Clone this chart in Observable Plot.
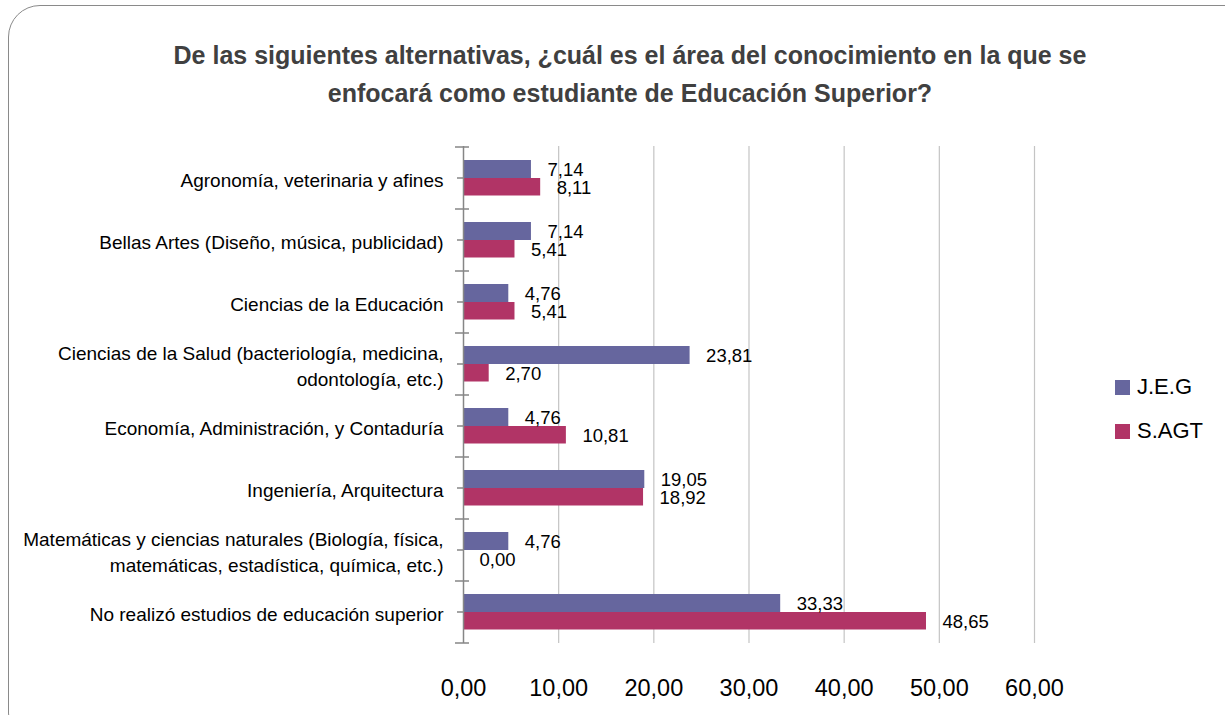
<!DOCTYPE html>
<html>
<head>
<meta charset="utf-8">
<script src="https://cdn.jsdelivr.net/npm/d3@7"></script>
<script src="https://cdn.jsdelivr.net/npm/@observablehq/plot@0.6"></script>
<style>
  html, body { margin: 0; padding: 0; background: #fff; }
  #wrap { position: relative; width: 1225px; height: 715px; overflow: hidden; font-family: "Liberation Sans", Arial, sans-serif; }
  #frame { position: absolute; left: 8px; top: 5px; width: 1260px; height: 740px; border: 1.5px solid #8a8a8a; border-radius: 32px; box-sizing: border-box; }
  #title { position: absolute; left: 50px; width: 1160px; top: 36px; text-align: center; font-weight: bold; font-size: 25px; line-height: 38px; color: #404040; }
  #chart { position: absolute; left: 0; top: 0; }
  .leg { position: absolute; left: 1115px; font-size: 22px; color: #000; display: flex; align-items: center; }
  .leg span.sw { display: inline-block; width: 15px; height: 15px; margin-right: 7px; }
</style>
</head>
<body>
<div id="wrap">
  <div id="frame"></div>
  <div id="title">De las siguientes alternativas, ¿cuál es el área del conocimiento en la que se<br>enfocará como estudiante de Educación Superior?</div>
  <div id="chart"></div>
  <div id="legend"></div>
</div>
<script>
const categories = [
  "Agronomía, veterinaria y afines",
  "Bellas Artes (Diseño, música, publicidad)",
  "Ciencias de la Educación",
  "Ciencias de la Salud (bacteriología, medicina,\nodontología, etc.)",
  "Economía, Administración, y Contaduría",
  "Ingeniería, Arquitectura",
  "Matemáticas y ciencias naturales (Biología, física,\nmatemáticas, estadística, química, etc.)",
  "No realizó estudios de educación superior"
];
const series = ["J.E.G", "S.AGT"];
const jeg  = [7.14, 7.14, 4.76, 23.81, 4.76, 19.05, 4.76, 33.33];
const sagt = [8.11, 5.41, 5.41, 2.70, 10.81, 18.92, 0.00, 48.65];
const xTicks = [0, 10, 20, 30, 40, 50, 60];
const colors = ["#66669e", "#b13466"];

const rowsJ = categories.map((c, i) => ({cat: c, series: series[0], value: jeg[i]}));
const rowsS = categories.map((c, i) => ({cat: c, series: series[1], value: sagt[i]}));
const fmt = v => d3.format(".2f")(v).replace(".", ",");

const boundaryTicks = (index, scales) => {
  const y = scales.y;
  const g = d3.create("svg:g").attr("stroke", "#868686").attr("stroke-width", 1.5);
  const x0 = scales.x(0);
  const bw = y.bandwidth ? y.bandwidth() : 0;
  const starts = categories.map(c => y(c)).concat([y(categories[categories.length - 1]) + bw]);
  for (const e of starts) g.append("line").attr("x1", x0 - 8).attr("x2", x0 + 6).attr("y1", e).attr("y2", e);
  for (const c of categories) {
    const m = y(c) + bw / 2;
    g.append("line").attr("x1", x0 - 6).attr("x2", x0).attr("y1", m).attr("y2", m);
  }
  return g.node();
};

const plot = Plot.plot({
  width: 1225,
  height: 715,
  marginLeft: 463,
  marginRight: 191,
  marginTop: 146,
  marginBottom: 72,
  style: {background: "transparent", overflow: "visible"},
  x: {domain: [0, 60], ticks: xTicks, label: null},
  y: {domain: categories, padding: 0, label: null},
  marks: [
    Plot.ruleX(xTicks.slice(1), {stroke: "#c4c4c4", strokeWidth: 1.2}),
    Plot.barX(rowsJ, {x: "value", y: "cat", fill: colors[0], insetTop: 13, insetBottom: 31}),
    Plot.barX(rowsS, {x: "value", y: "cat", fill: colors[1], insetTop: 31, insetBottom: 13.5}),
    Plot.ruleX([0], {stroke: "#868686", strokeWidth: 1.5}),
    boundaryTicks,
    Plot.text(rowsJ, {x: "value", y: "cat", text: d => fmt(d.value), dx: 16, dy: -8, textAnchor: "start", fontSize: 18.5, fill: "#000", fontFamily: "Liberation Sans"}),
    Plot.text(rowsS, {x: "value", y: "cat", text: d => fmt(d.value), dx: 16, dy: 10, textAnchor: "start", fontSize: 18.5, fill: "#000", fontFamily: "Liberation Sans"}),
    Plot.axisX(xTicks, {tickSize: 0, tickPadding: 36, fontSize: 23.5, tickFormat: fmt, fill: "#000", fontFamily: "Liberation Sans", label: null}),
    Plot.axisY({tickSize: 0, tickPadding: 20, fontSize: 19, lineHeight: 1.35, fill: "#000", fontFamily: "Liberation Sans", label: null})
  ]
});
document.getElementById("chart").appendChild(plot);

const legend = document.getElementById("legend");
series.forEach((s, i) => {
  const d = document.createElement("div");
  d.className = "leg";
  d.style.top = (i === 0 ? 374 : 418) + "px";
  d.innerHTML = `<span class="sw" style="background:${colors[i]}"></span><span>${s}</span>`;
  legend.appendChild(d);
});
</script>
</body>
</html>
